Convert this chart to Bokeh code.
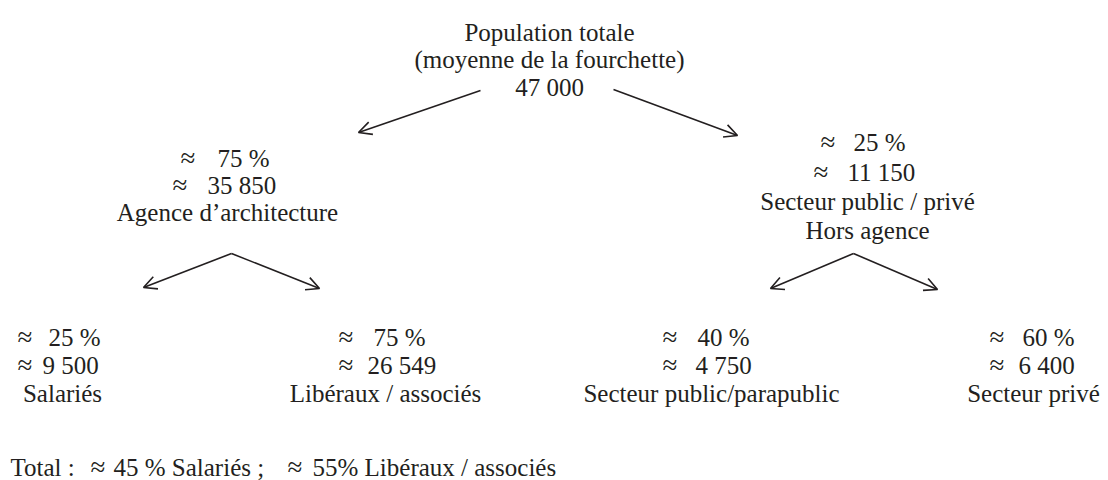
from bokeh.plotting import figure
from bokeh.models import Range1d, Arrow, OpenHead, ColumnDataSource
from bokeh.core.properties import value
from bokeh.embed import file_html
from bokeh.resources import INLINE

FONT = "Liberation Serif"
COLOR = "#231f20"
FS = "25px"
FS_APPROX = "27px"
APPROX = "≈"

# ---------------- data ----------------
root_lines = ["Population totale", "(moyenne de la fourchette)"]
root_total = "47 000"

branch_names = [["Agence d’architecture"], ["Secteur public / privé", "Hors agence"]]
branch_pct = [75, 25]
branch_count = ["35 850", "11 150"]

leaf_names = ["Salariés", "Libéraux / associés", "Secteur public/parapublic", "Secteur privé"]
leaf_pct = [25, 75, 40, 60]
leaf_count = ["9 500", "26 549", "4 750", "6 400"]
leaf_parent = [0, 0, 1, 1]

total_label = "Total :"
total_pct = [45, 55]
total_names = ["Salariés", "Libéraux / associés"]

# ---------------- layout (pixel positions) ----------------
W, H = 1108, 480
root_x = 549
root_y = [32, 59, 87]

branch_approx_x = [[180, 172], [820, 813]]
branch_num_x = [[217, 207], [853, 847]]
branch_name_x = [227, 867]
branch_y = [[158, 185, 212], [142, 172, 201, 230]]

leaf_approx_x = [[17, 17], [338, 338], [662, 662], [989, 989]]
leaf_num_x = [[48, 42], [373, 367], [697, 695], [1022, 1018]]
leaf_name_x = [62, 385, 711, 1033]
leaf_y = [337, 365, 393]

total_x = [10, 90, 113, 287, 312]
total_y = 467

root_arrow_start = [(480, 90), (613, 89)]
root_arrow_end = [(358, 132), (737, 135)]
branch_apex = [(231, 253), (853, 253)]
leaf_arrow_end = [(143, 287), (319, 288), (770, 288), (937, 289)]

p = figure(width=W, height=H, x_range=Range1d(0, W), y_range=Range1d(H, 0),
           output_backend="svg", toolbar_location=None, min_border=0,
           x_axis_location=None, y_axis_location=None)
p.grid.visible = False
p.outline_line_color = None
p.background_fill_color = "white"
p.border_fill_color = "white"

xs, ys, ts, aligns = [], [], [], []
axs, ays = [], []

def add(x, y, t, a="center"):
    xs.append(x); ys.append(y); ts.append(t); aligns.append(a)

def approx(x, y):
    axs.append(x); ays.append(y - 1)

# root
for i, line in enumerate(root_lines + [root_total]):
    add(root_x, root_y[i], line)

# branches
for b in range(2):
    yy = branch_y[b]
    approx(branch_approx_x[b][0], yy[0])
    add(branch_num_x[b][0], yy[0], f"{branch_pct[b]} %", "left")
    approx(branch_approx_x[b][1], yy[1])
    add(branch_num_x[b][1], yy[1], branch_count[b], "left")
    for k, nm in enumerate(branch_names[b]):
        add(branch_name_x[b], yy[2 + k], nm)

# leaves
for i in range(4):
    approx(leaf_approx_x[i][0], leaf_y[0])
    add(leaf_num_x[i][0], leaf_y[0], f"{leaf_pct[i]} %", "left")
    approx(leaf_approx_x[i][1], leaf_y[1])
    add(leaf_num_x[i][1], leaf_y[1], leaf_count[i], "left")
    add(leaf_name_x[i], leaf_y[2], leaf_names[i])

# total line
add(total_x[0], total_y, total_label, "left")
approx(total_x[1], total_y)
add(total_x[2], total_y, f"{total_pct[0]} % {total_names[0]} ;", "left")
approx(total_x[3], total_y)
add(total_x[4], total_y, f"{total_pct[1]}% {total_names[1]}", "left")

src = ColumnDataSource(dict(x=xs, y=ys, text=ts, align=aligns))
p.text(x="x", y="y", text="text", source=src, text_align="align",
       text_baseline="alphabetic", text_font=value(FONT), text_font_size=FS,
       text_color=COLOR)

asrc_t = ColumnDataSource(dict(x=axs, y=ays, text=[APPROX] * len(axs)))
p.text(x="x", y="y", text="text", source=asrc_t, text_align="left",
       text_baseline="alphabetic", text_font=value(FONT), text_font_size=FS_APPROX,
       text_color=COLOR)

# arrows
ax0, ay0, ax1, ay1 = [], [], [], []
for s, e in zip(root_arrow_start, root_arrow_end):
    ax0.append(s[0]); ay0.append(s[1]); ax1.append(e[0]); ay1.append(e[1])
for i, e in enumerate(leaf_arrow_end):
    s = branch_apex[leaf_parent[i]]
    ax0.append(s[0]); ay0.append(s[1]); ax1.append(e[0]); ay1.append(e[1])

asrc = ColumnDataSource(dict(x0=ax0, y0=ay0, x1=ax1, y1=ay1))
p.add_layout(Arrow(x_start="x0", y_start="y0", x_end="x1", y_end="y1", source=asrc,
                   line_width=1.6, line_color=COLOR,
                   end=OpenHead(size=13, line_width=1.6, line_color=COLOR)))

open("out.html", "w").write(file_html(p, INLINE))
